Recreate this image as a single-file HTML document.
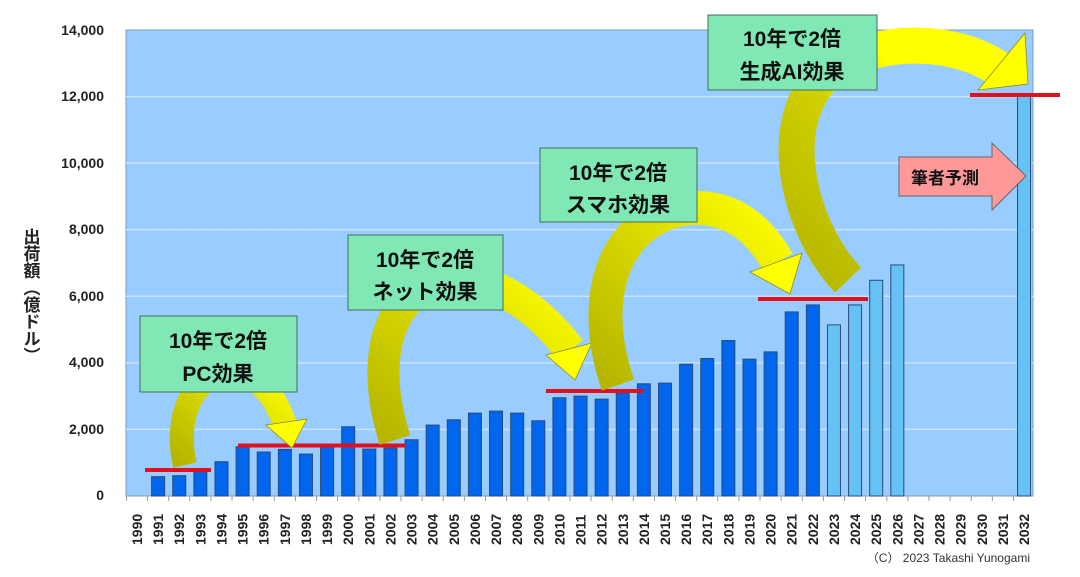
<!DOCTYPE html>
<html><head><meta charset="utf-8"><style>
html,body{margin:0;padding:0;background:#fff;width:1080px;height:577px;overflow:hidden}
svg text{font-family:"Liberation Sans","Noto Sans CJK JP",sans-serif}
</style></head><body>
<svg width="1080" height="577" viewBox="0 0 1080 577" xmlns="http://www.w3.org/2000/svg">
<defs>
<linearGradient id="g1" x1="0" y1="1" x2="1" y2="0"><stop offset="0" stop-color="#b5b500"/><stop offset="0.5" stop-color="#d8d800"/><stop offset="1" stop-color="#ffff00"/></linearGradient>
<linearGradient id="g2" x1="0" y1="1" x2="1" y2="0"><stop offset="0" stop-color="#b5b500"/><stop offset="0.45" stop-color="#d0d000"/><stop offset="0.7" stop-color="#ffff00"/></linearGradient>
</defs>
<rect x="126" y="30" width="907" height="466" fill="#99ccff" stroke="#7a9cc0"/>
<g stroke="#c8e2ff" stroke-width="1.5">
<line x1="126" y1="96.6" x2="1033" y2="96.6"/><line x1="126" y1="163.1" x2="1033" y2="163.1"/><line x1="126" y1="229.7" x2="1033" y2="229.7"/><line x1="126" y1="296.3" x2="1033" y2="296.3"/><line x1="126" y1="362.9" x2="1033" y2="362.9"/><line x1="126" y1="429.4" x2="1033" y2="429.4"/>
</g>
<line x1="126" y1="496" x2="1033" y2="496" stroke="#999"/>
<g font-size="14" font-weight="bold" fill="#222" text-anchor="end">
<text x="104" y="35">14,000</text><text x="104" y="101">12,000</text><text x="104" y="168">10,000</text><text x="104" y="234">8,000</text><text x="104" y="301">6,000</text><text x="104" y="367">4,000</text><text x="104" y="434">2,000</text><text x="104" y="500">0</text>
</g>
<text font-size="17" font-weight="bold" fill="#222" x="30" y="228" style="writing-mode:vertical-rl">出荷額（億ドル）</text>
<g id="bars" stroke="#2a4a7a" stroke-width="1"></g>
<g id="xl" font-size="14" font-weight="bold" fill="#222"></g>
<text x="1030" y="562" font-size="12" fill="#333" text-anchor="end">（C） 2023 Takashi Yunogami</text>
<g stroke="#e01020" stroke-width="4">
<line x1="145" y1="470" x2="211" y2="470"/><line x1="238" y1="445.5" x2="406" y2="445.5"/><line x1="546" y1="391" x2="644" y2="391"/><line x1="758" y1="299" x2="868" y2="299"/><line x1="970" y1="95" x2="1060" y2="95"/>
</g>
<g stroke="#8a8a30" stroke-width="0.8">
<path d="M185,465 C170,400 210,360 245,375 C270,385 280,410 285,425" fill="none" stroke="url(#g1)" stroke-width="24"/>
<polygon points="266,425 307,419 292,448" fill="#ffff00"/>
<path d="M395,440 C360,330 410,270 470,280 C520,290 555,330 570,350" fill="none" stroke="url(#g1)" stroke-width="32"/>
<polygon points="546,355 592,343 575,380" fill="#ffff00"/>
<path d="M618,385 C585,290 620,215 690,208 C740,205 765,240 778,262" fill="none" stroke="url(#g1)" stroke-width="34"/>
<polygon points="750,272 802,253 790,294" fill="#ffff00"/>
<path d="M848,280 C800,230 770,120 830,70 C880,35 960,40 1000,70" fill="none" stroke="url(#g2)" stroke-width="36"/>
<polygon points="978,90 1025,33 1028,84" fill="#ffff00"/>
</g>
<g stroke="#4a6a5a" stroke-width="1" fill="#80e8b4">
<rect x="140" y="316" width="157" height="76"/>
<rect x="348" y="235" width="155" height="75"/>
<rect x="540" y="148" width="157" height="74"/>
<rect x="708" y="15" width="169" height="75"/>
</g>
<g font-size="21" font-weight="bold" fill="#111" text-anchor="middle">
<text x="218" y="348">10年で2倍</text><text x="218" y="381">PC効果</text>
<text x="425" y="267">10年で2倍</text><text x="425" y="299">ネット効果</text>
<text x="618" y="180">10年で2倍</text><text x="618" y="212">スマホ効果</text>
<text x="792" y="46">10年で2倍</text><text x="792" y="79">生成AI効果</text>
</g>
<polygon points="899,157 992,157 992,143 1026,176 992,210 992,196 899,196" fill="#ff9999" stroke="#666"/>
<text x="945" y="184" font-size="17" font-weight="bold" fill="#111" text-anchor="middle">筆者予測</text>
</svg>
<script>
var v={1991:580,1992:610,1993:730,1994:1030,1995:1480,1996:1320,1997:1400,1998:1260,1999:1530,2000:2080,2001:1410,2002:1440,2003:1690,2004:2130,2005:2290,2006:2490,2007:2550,2008:2490,2009:2260,2010:2950,2011:3000,2012:2910,2013:3100,2014:3370,2015:3390,2016:3960,2017:4130,2018:4670,2019:4110,2020:4330,2021:5530,2022:5740,2023:5140,2024:5740,2025:6480,2026:6940,2032:12050};
var ns="http://www.w3.org/2000/svg",b=document.getElementById('bars'),xl=document.getElementById('xl');
for(var y=1990;y<=2032;y++){var c=137+(y-1990)*21.12;
if(v[y]){var h=v[y]*0.03329,r=document.createElementNS(ns,'rect');r.setAttribute('x',c-6.5);r.setAttribute('y',496-h);r.setAttribute('width',13);r.setAttribute('height',h);r.setAttribute('fill',y>2022?'#66c2f5':'#0066ee');b.appendChild(r);}
var t=document.createElementNS(ns,'text');t.setAttribute('transform','translate('+(c+5)+',545) rotate(-90)');t.textContent=y;xl.appendChild(t);
var tk=document.createElementNS(ns,'line');tk.setAttribute('x1',c-10.56);tk.setAttribute('x2',c-10.56);tk.setAttribute('y1',496);tk.setAttribute('y2',501);tk.setAttribute('stroke','#999');xl.appendChild(tk);}
</script>
</body></html>
